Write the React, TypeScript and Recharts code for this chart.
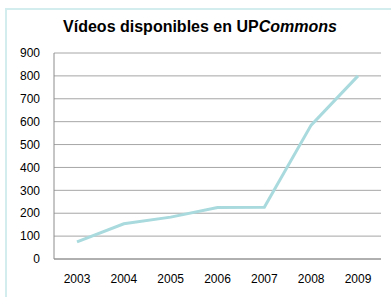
import React from 'react';
import { LineChart, Line, XAxis, YAxis, CartesianGrid } from 'recharts';

const years = ['2003', '2004', '2005', '2006', '2007', '2008', '2009'];
const videos = [75, 154, 183, 225, 226, 585, 800];
const yTicks = [0, 100, 200, 300, 400, 500, 600, 700, 800, 900];

const data = years.map((y, i) => ({ year: y, value: videos[i] }));

const font = '"Liberation Sans", Arial, sans-serif';

export default function App() {
  return (
    <div style={{ position: 'absolute', left: 0, top: 0, width: 391, height: 297, background: '#fff', fontFamily: font, overflow: 'hidden' }}>
      <div style={{ position: 'absolute', left: 5, top: 8, width: 400, height: 300, borderLeft: '2px solid #d3ecee', borderTop: '2px solid #d3ecee' }} />
      <div style={{ position: 'absolute', left: 0, top: 18, width: 400, textAlign: 'center', fontSize: 16, fontWeight: 'bold', color: '#000', whiteSpace: 'nowrap' }}>
        Vídeos disponibles en UP<i>Commons</i>
      </div>
      <div style={{ position: 'absolute', left: 0, top: 0 }}>
        <LineChart width={391} height={297} data={data} margin={{ top: 53, right: 10, bottom: 8, left: 0 }}>
          <CartesianGrid vertical={false} stroke="#a6a6a6" strokeWidth={1} />
          <XAxis
            dataKey="year"
            tickLine={false}
            axisLine={{ stroke: '#8c8c8c' }}
            tickSize={6}
            tickMargin={9}
            height={30}
            padding={{ left: 23, right: 23 }}
            tick={{ fill: '#000', fontSize: 12, fontFamily: font }}
          />
          <YAxis
            domain={[0, 900]}
            ticks={yTicks}
            interval={0}
            tickLine={false}
            axisLine={{ stroke: '#8c8c8c' }}
            tickSize={6}
            tickMargin={8}
            width={54}
            tick={{ fill: '#000', fontSize: 12, fontFamily: font }}
          />
          <Line type="linear" dataKey="value" stroke="#a9dadd" strokeWidth={3} dot={false} isAnimationActive={false} />
        </LineChart>
      </div>
    </div>
  );
}
